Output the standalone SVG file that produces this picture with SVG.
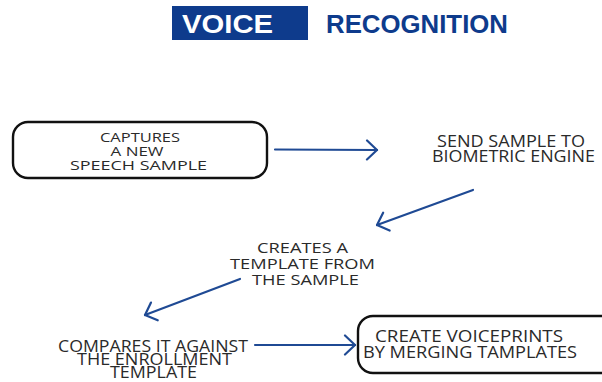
<svg xmlns="http://www.w3.org/2000/svg" width="602" height="382" viewBox="0 0 602 382">
<style>
.t{font-family:"Open Sans","Noto Sans","Liberation Sans",sans-serif;fill:#2a2a2a;text-anchor:middle;font-weight:500}
.box{fill:#fff;stroke:#111;stroke-width:2.4}
.c{fill:none;stroke:#1f4a94;stroke-width:2.2;stroke-linecap:round;stroke-linejoin:round}
.title{font-family:"Liberation Sans","Open Sans",sans-serif;font-weight:700;font-size:25px}
</style>
<defs>
<marker id="ah" markerUnits="userSpaceOnUse" viewBox="-12 -11 14 22" refX="0" refY="0" markerWidth="14" markerHeight="22" orient="auto">
<path d="M-10,-9.5 L0,0 L-10,9.5" fill="none" stroke="#1f4a94" stroke-width="2.2" stroke-linecap="round" stroke-linejoin="round"/>
</marker>
</defs>
<rect width="602" height="382" fill="#fff"/>
<g id="title">
<rect x="172" y="6" width="136" height="34" fill="#0e3b8c"/>
<text class="title" x="182" y="33" fill="#fff" textLength="91" lengthAdjust="spacingAndGlyphs">VOICE</text>
<text class="title" x="326" y="33" fill="#0e3b8c" textLength="182" lengthAdjust="spacingAndGlyphs">RECOGNITION</text>
</g>
<g id="node-capture">
<rect class="box" x="13" y="122" width="254" height="56" rx="15"/>
<text class="t" font-size="13.5"><tspan x="140" y="142" textLength="80" lengthAdjust="spacingAndGlyphs">CAPTURES</tspan><tspan x="137" y="155.5" textLength="53" lengthAdjust="spacingAndGlyphs">A NEW</tspan><tspan x="138.5" y="169.5" textLength="137" lengthAdjust="spacingAndGlyphs">SPEECH SAMPLE</tspan></text>
</g>
<g id="node-send">
<text class="t" font-size="16"><tspan x="511" y="147" textLength="148" lengthAdjust="spacingAndGlyphs">SEND SAMPLE TO</tspan><tspan x="513.5" y="162" textLength="163" lengthAdjust="spacingAndGlyphs">BIOMETRIC ENGINE</tspan></text>
</g>
<g id="node-template">
<text class="t" font-size="14.5"><tspan x="302.5" y="253" textLength="91" lengthAdjust="spacingAndGlyphs">CREATES A</tspan><tspan x="302.5" y="269" textLength="145" lengthAdjust="spacingAndGlyphs">TEMPLATE FROM</tspan><tspan x="305.5" y="285" textLength="107" lengthAdjust="spacingAndGlyphs">THE SAMPLE</tspan></text>
</g>
<g id="node-compare">
<text class="t" font-size="15.5"><tspan x="153" y="351.5" textLength="190" lengthAdjust="spacingAndGlyphs">COMPARES IT AGAINST</tspan><tspan x="154.5" y="364.5" textLength="155" lengthAdjust="spacingAndGlyphs">THE ENROLLMENT</tspan><tspan x="153.5" y="377.5" textLength="87" lengthAdjust="spacingAndGlyphs">TEMPLATE</tspan></text>
</g>
<g id="node-voiceprint">
<rect class="box" x="358" y="316" width="260" height="57" rx="15"/>
<text class="t" font-size="16"><tspan x="469" y="342" textLength="188" lengthAdjust="spacingAndGlyphs">CREATE VOICEPRINTS</tspan><tspan x="470" y="357.5" textLength="214" lengthAdjust="spacingAndGlyphs">BY MERGING TAMPLATES</tspan></text>
</g>
<g id="connectors">
<path class="c" d="M275,149.5 L377,150" marker-end="url(#ah)"/>
<path class="c" d="M473,190 L377,225" marker-end="url(#ah)"/>
<path class="c" d="M240,279 L145,315" marker-end="url(#ah)"/>
<path class="c" d="M255,345 L355,345" marker-end="url(#ah)"/>
</g>
</svg>
